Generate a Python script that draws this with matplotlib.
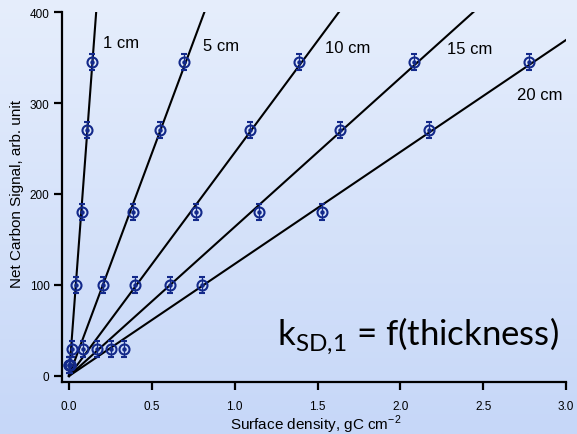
import numpy as np
import matplotlib
matplotlib.use("Agg")
from matplotlib import pyplot as plt
from matplotlib.colors import LinearSegmentedColormap

# net carbon signal for each set of samples (arb. unit)
signal = [12, 30, 100, 180, 270, 345]
signal_err = 9

# surface density (gC cm^-2) for each sample thickness
thickness = ["1 cm", "5 cm", "10 cm", "15 cm", "20 cm"]
density_1cm = [0.001, 0.016, 0.044, 0.077, 0.110, 0.139]
density_5cm = [0.002, 0.085, 0.205, 0.385, 0.550, 0.694]
density_10cm = [0.004, 0.169, 0.400, 0.765, 1.093, 1.390]
density_15cm = [0.006, 0.254, 0.610, 1.147, 1.636, 2.080]
density_20cm = [0.008, 0.334, 0.800, 1.530, 2.172, 2.776]
densities = [density_1cm, density_5cm, density_10cm, density_15cm, density_20cm]

x_ticks = [0.0, 0.5, 1.0, 1.5, 2.0, 2.5, 3.0]
y_ticks = [0, 100, 200, 300, 400]

plt.rcParams['font.family'] = ['Liberation Sans', 'DejaVu Sans']
plt.rcParams['mathtext.fontset'] = 'custom'
plt.rcParams['mathtext.rm'] = 'Lato'
plt.rcParams['mathtext.sf'] = 'Liberation Sans'

navy = '#13298a'


def main():
    fig = plt.figure(figsize=(5.77, 4.35), dpi=100)

    # soft vertical gradient behind everything
    bg = fig.add_axes([0, 0, 1, 1], zorder=-1)
    grad = np.linspace(0, 1, 256).reshape(-1, 1)
    cmap = LinearSegmentedColormap.from_list('bg', ['#c6d7f8', '#e6eefc'])
    bg.imshow(grad, aspect='auto', cmap=cmap, origin='lower', extent=[0, 1, 0, 1])
    bg.axis('off')

    ax = fig.add_axes([0.10745, 0.11954, 0.87348, 0.85057])
    ax.patch.set_alpha(0)

    xs = np.linspace(0, 3.0, 50)
    for dens in densities:
        d = np.array(dens)
        s = np.array(signal)
        k = (d * s).sum() / (d * d).sum()   # fit through origin
        ax.plot(xs, k * xs, color='black', lw=1.5, zorder=2)
        ax.errorbar(d, s, yerr=signal_err, fmt='o', ms=7.2, mfc='none', mec=navy,
                    mew=1.5, ecolor=navy, elinewidth=0.9, capsize=2.5, capthick=0.9,
                    zorder=3)
        ax.plot(d, s, 'o', ms=2.2, color=navy, zorder=4)

    label_pos = [(0.205, 366), (0.807, 363), (1.546, 361), (2.281, 360), (2.703, 309)]
    for name, (lx, ly) in zip(thickness, label_pos):
        ax.text(lx, ly, name, fontsize=12, ha='left', va='center')

    ax.set_xlim(-0.0423, 3.0)
    ax.set_ylim(-6.6, 400)
    ax.set_xticks(x_ticks)
    ax.set_xticklabels(["{:.1f}".format(v) for v in x_ticks])
    ax.set_yticks(y_ticks)
    ax.tick_params(length=6, width=1.6, labelsize=8.5, color='black')
    ax.tick_params(axis='x', pad=7)
    ax.tick_params(axis='y', pad=3)
    for side in ['top', 'right']:
        ax.spines[side].set_visible(False)
    for side in ['left', 'bottom']:
        ax.spines[side].set_linewidth(1.6)

    fig.text(0.0303, 1 - 193.5 / 435, "Net Carbon Signal, arb. unit", rotation=90,
             ha='center', va='center', fontsize=11)
    fig.text(0.547, 1 - 430 / 435, r"Surface density, gC cm$^{\mathsf{-2}}$",
             ha='center', va='baseline', fontsize=11)

    fig.text(277 / 577, 1 - 345 / 435, r"k$_{\mathrm{SD{,}1}}$ = f(thickness)",
             family=['Lato', 'DejaVu Sans'], fontsize=25, ha='left', va='baseline')

    fig.savefig('out.png', dpi=100)


if __name__ == "__main__":
    main()
